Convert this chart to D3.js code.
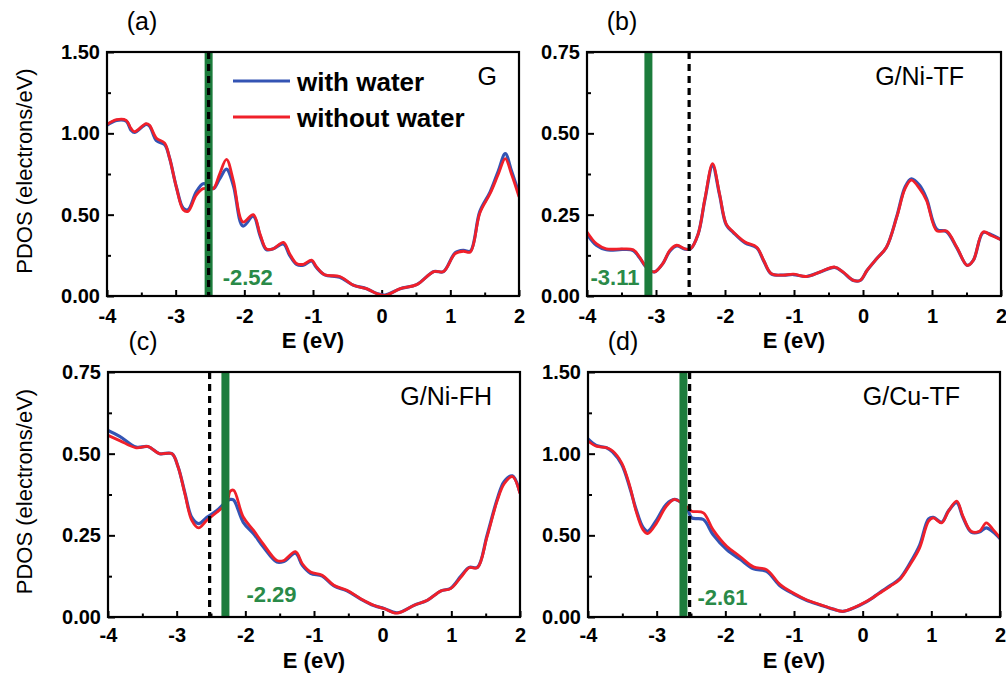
<!DOCTYPE html>
<html><head><meta charset="utf-8">
<script src="https://cdn.jsdelivr.net/npm/d3@7"></script>
<style>
body{margin:0;background:#fff;}
svg{display:block;font-family:"Liberation Sans",Arial,sans-serif;}
</style></head>
<body><svg id="c" width="1006" height="677"></svg>
<script>
// ---- data ----
const xTicksMajor = [-4,-3,-2,-1,0,1,2];
const xTicksMinor = [-3.5,-2.5,-1.5,-0.5,0.5,1.5];
const yTicksWide = [0,0.5,1.0,1.5];
const yTicksNarrow = [0,0.25,0.5,0.75];
const seriesNames = ["with water","without water"];
const panelTags = ["(a)","(b)","(c)","(d)"];
const systemNames = ["G","G/Ni-TF","G/Ni-FH","G/Cu-TF"];
const dashedRef = -2.52;
const dbandCenters = [-2.52,-3.11,-2.29,-2.61];

const aE = [-4,-3.86,-3.72,-3.65,-3.6,-3.43,-3.38,-3.28,-3.16,-3.09,-2.99,-2.89,-2.82,-2.7,-2.6,-2.52,-2.45,-2.36,-2.26,-2.16,-2.02,-1.87,-1.77,-1.68,-1.58,-1.43,-1.34,-1.24,-1.14,-1.02,-0.95,-0.83,-0.61,-0.41,-0.22,-0.07,0.05,0.27,0.51,0.76,0.9,1.07,1.19,1.29,1.43,1.58,1.7,1.8,1.89,2.0];
const aWithout = [1.055,1.084,1.08,1.03,1.01,1.06,1.05,0.97,0.94,0.85,0.67,0.53,0.52,0.62,0.66,0.66,0.66,0.75,0.84,0.71,0.455,0.50,0.38,0.29,0.29,0.33,0.26,0.20,0.195,0.22,0.18,0.13,0.12,0.066,0.045,0.015,0.004,0.045,0.07,0.15,0.15,0.26,0.275,0.27,0.51,0.63,0.75,0.845,0.75,0.61];
const aWith    = [1.05,1.08,1.075,1.02,1.005,1.055,1.045,0.955,0.93,0.85,0.67,0.54,0.53,0.64,0.69,0.68,0.66,0.72,0.78,0.68,0.43,0.49,0.37,0.285,0.29,0.32,0.25,0.195,0.19,0.215,0.175,0.13,0.115,0.066,0.045,0.015,0.006,0.045,0.07,0.15,0.15,0.265,0.28,0.275,0.52,0.64,0.77,0.875,0.77,0.63];

const bE = [-4,-3.86,-3.72,-3.48,-3.33,-3.24,-3.16,-3.09,-3.02,-2.9,-2.8,-2.7,-2.58,-2.5,-2.39,-2.29,-2.18,-2.08,-1.98,-1.88,-1.71,-1.54,-1.44,-1.33,-1.16,-1.01,-0.82,-0.62,-0.41,-0.29,-0.14,-0.04,0.06,0.2,0.34,0.49,0.61,0.7,0.82,0.92,1.07,1.21,1.36,1.51,1.6,1.74,1.86,2.0];
const bWithout = [0.197,0.16,0.145,0.145,0.142,0.12,0.094,0.079,0.074,0.10,0.14,0.156,0.145,0.145,0.19,0.30,0.407,0.315,0.22,0.197,0.166,0.15,0.11,0.069,0.064,0.067,0.06,0.074,0.089,0.074,0.048,0.048,0.079,0.115,0.15,0.243,0.33,0.356,0.33,0.294,0.20,0.20,0.15,0.094,0.11,0.197,0.186,0.173];
const bWith    = [0.19,0.155,0.142,0.143,0.14,0.118,0.093,0.079,0.074,0.10,0.138,0.154,0.144,0.145,0.19,0.298,0.40,0.312,0.218,0.195,0.163,0.148,0.108,0.068,0.064,0.066,0.06,0.074,0.088,0.073,0.048,0.048,0.079,0.115,0.15,0.245,0.335,0.36,0.34,0.30,0.205,0.198,0.148,0.094,0.11,0.195,0.188,0.173];

const cE = [-4,-3.83,-3.59,-3.42,-3.25,-3.07,-2.98,-2.88,-2.78,-2.68,-2.56,-2.42,-2.27,-2.22,-2.17,-2.03,-1.88,-1.74,-1.54,-1.44,-1.27,-1.17,-1.05,-0.88,-0.71,-0.52,-0.32,-0.13,0.02,0.21,0.46,0.65,0.85,0.99,1.14,1.26,1.38,1.52,1.67,1.77,1.89,2.0];
const cWithout = [0.556,0.54,0.518,0.522,0.50,0.50,0.46,0.377,0.296,0.273,0.296,0.32,0.35,0.385,0.388,0.306,0.265,0.224,0.173,0.173,0.20,0.163,0.138,0.128,0.097,0.082,0.056,0.036,0.026,0.012,0.036,0.051,0.08,0.087,0.122,0.151,0.151,0.245,0.357,0.408,0.43,0.378];
const cWith    = [0.571,0.553,0.52,0.522,0.50,0.50,0.46,0.38,0.305,0.286,0.305,0.325,0.355,0.36,0.358,0.29,0.255,0.215,0.168,0.17,0.195,0.158,0.134,0.125,0.095,0.08,0.055,0.035,0.026,0.013,0.036,0.051,0.08,0.088,0.125,0.152,0.152,0.25,0.362,0.415,0.432,0.38];

const dE = [-4,-3.88,-3.73,-3.64,-3.51,-3.39,-3.3,-3.2,-3.13,-3.0,-2.86,-2.74,-2.64,-2.55,-2.49,-2.32,-2.18,-1.98,-1.79,-1.59,-1.4,-1.2,-1.01,-0.82,-0.62,-0.43,-0.29,-0.14,0.06,0.25,0.4,0.54,0.69,0.83,0.96,1.03,1.15,1.25,1.37,1.46,1.58,1.7,1.8,1.9,2.0];
const dWithout = [1.077,1.046,1.036,1.016,0.944,0.80,0.648,0.535,0.511,0.576,0.678,0.72,0.70,0.67,0.648,0.638,0.535,0.433,0.372,0.307,0.29,0.198,0.147,0.106,0.076,0.049,0.035,0.055,0.096,0.147,0.188,0.229,0.32,0.423,0.587,0.607,0.576,0.648,0.709,0.617,0.525,0.525,0.576,0.535,0.484];
const dWith    = [1.09,1.05,1.036,1.01,0.935,0.79,0.66,0.55,0.525,0.595,0.69,0.72,0.70,0.66,0.607,0.597,0.505,0.413,0.355,0.295,0.28,0.19,0.142,0.103,0.074,0.048,0.035,0.054,0.094,0.15,0.192,0.235,0.33,0.44,0.6,0.61,0.58,0.65,0.70,0.61,0.52,0.52,0.546,0.52,0.48];

// ---- layout ----
const panels = [
  {E:aE, w:aWith, wo:aWithout, ymax:1.5, yt:yTicksWide, box:[107,52,519,296], legend:true, ylab:true,
   sysDx:-22, annDx:14, annAnchor:"start", annDy:-11, xlDy:52, tp:13},
  {E:bE, w:bWith, wo:bWithout, ymax:0.75, yt:yTicksNarrow, box:[587,52,1001,296], legend:false, ylab:false,
   sysDx:-37, annDx:-9, annAnchor:"end", annDy:-11, xlDy:52, tp:13},
  {E:cE, w:cWith, wo:cWithout, ymax:0.75, yt:yTicksNarrow, box:[108,372,520,617], legend:false, ylab:true,
   sysDx:-28, annDx:21, annAnchor:"start", annDy:-15, xlDy:51, tp:11},
  {E:dE, w:dWith, wo:dWithout, ymax:1.5, yt:yTicksWide, box:[588,372,1000,617], legend:false, ylab:false,
   sysDx:-40, annDx:14, annAnchor:"start", annDy:-12, xlDy:51, tp:11}
];
const BLUE = "#3454b4", RED = "#f0202a", GREEN = "#1c7c3c", GTEXT = "#2a8a48";

const svg = d3.select("#c");
panels.forEach((p,i)=>{
  const [x0,y0,x1,y1] = p.box;
  const x = d3.scaleLinear().domain([-4,2]).range([x0,x1]);
  const y = d3.scaleLinear().domain([0,p.ymax]).range([y1,y0]);
  const g = svg.append("g");
  const clipId = "clip"+i;
  g.append("clipPath").attr("id",clipId).append("rect")
    .attr("x",x0).attr("y",y0).attr("width",x1-x0).attr("height",y1-y0);

  // minor ticks
  const yMinor = p.yt.slice(0,-1).map((v,k)=>(v+p.yt[k+1])/2);
  g.append("g").attr("transform",`translate(0,${y1})`)
    .call(d3.axisBottom(x).tickValues(xTicksMinor).tickSize(-3.5).tickFormat(""))
    .call(s=>s.select(".domain").remove())
    .call(s=>s.selectAll("line").attr("stroke","#000").attr("stroke-width",2));
  g.append("g").attr("transform",`translate(${x0},0)`)
    .call(d3.axisLeft(y).tickValues(yMinor).tickSize(-4).tickFormat(""))
    .call(s=>s.select(".domain").remove())
    .call(s=>s.selectAll("line").attr("stroke","#000").attr("stroke-width",2));
  // major ticks
  g.append("g").attr("transform",`translate(0,${y1})`)
    .call(d3.axisBottom(x).tickValues(xTicksMajor).tickSize(-6).tickPadding(p.tp).tickFormat(d3.format("d")))
    .call(s=>s.select(".domain").remove())
    .call(s=>s.selectAll("line").attr("stroke","#000").attr("stroke-width",2))
    .call(s=>s.selectAll("text").attr("font-size",20).attr("font-weight","bold").attr("fill","#000")
      .attr("font-family","Liberation Sans, Arial, sans-serif").text(d=>d<0?"-"+Math.abs(d):d));
  g.append("g").attr("transform",`translate(${x0},0)`)
    .call(d3.axisLeft(y).tickValues(p.yt).tickSize(-7).tickPadding(7).tickFormat(d3.format(".2f")))
    .call(s=>s.select(".domain").remove())
    .call(s=>s.selectAll("line").attr("stroke","#000").attr("stroke-width",2))
    .call(s=>s.selectAll("text").attr("font-size",20).attr("font-weight","bold").attr("fill","#000")
      .attr("font-family","Liberation Sans, Arial, sans-serif"));

  // curves
  const line = d3.line().x((d,k)=>x(p.E[k])).y(d=>y(d)).curve(d3.curveCatmullRom.alpha(0.5));
  const cg = g.append("g").attr("clip-path",`url(#${clipId})`);
  cg.append("path").attr("d",line(p.w)).attr("fill","none").attr("stroke",BLUE).attr("stroke-width",3.2);
  cg.append("path").attr("d",line(p.wo)).attr("fill","none").attr("stroke",RED).attr("stroke-width",2.8);

  // green d-band line and dashed reference
  const cx = dbandCenters[i];
  g.append("line").attr("x1",x(cx)).attr("x2",x(cx)).attr("y1",y0).attr("y2",y1)
    .attr("stroke",GREEN).attr("stroke-width",8);
  g.append("line").attr("x1",x(dashedRef)).attr("x2",x(dashedRef)).attr("y1",y0).attr("y2",y1)
    .attr("stroke","#000").attr("stroke-width",3.2).attr("stroke-dasharray","7,5");

  // frame
  g.append("rect").attr("x",x0).attr("y",y0).attr("width",x1-x0).attr("height",y1-y0)
    .attr("fill","none").attr("stroke","#000").attr("stroke-width",2.2);

  // annotation
  g.append("text").attr("x",x(cx)+p.annDx).attr("y",y1+p.annDy).attr("text-anchor",p.annAnchor)
    .attr("font-size",22).attr("font-weight","bold").attr("fill",GTEXT)
    .text(cx.toFixed(2));

  // system name
  g.append("text").attr("x",x1+p.sysDx).attr("y",y0+33).attr("text-anchor","end")
    .attr("font-size",25).attr("fill","#000").text(systemNames[i]);

  // panel tag
  g.append("text").attr("x",x0+35).attr("y",y0-22).attr("text-anchor","middle")
    .attr("font-size",25).attr("fill","#000").text(panelTags[i]);

  // x label
  g.append("text").attr("x",(x0+x1)/2).attr("y",y1+p.xlDy).attr("text-anchor","middle")
    .attr("font-size",22).attr("font-weight","bold").attr("fill","#000").text("E (eV)");

  if(p.ylab){
    g.append("text").attr("transform",`translate(32,${(y0+y1)/2 - 3}) rotate(-90)`)
      .attr("text-anchor","middle").attr("font-size",22).attr("fill","#000")
      .text("PDOS (electrons/eV)");
  }
  if(p.legend){
    const ly = [81,117];
    [BLUE,RED].forEach((c,k)=>{
      g.append("line").attr("x1",233).attr("x2",290).attr("y1",ly[k]).attr("y2",ly[k])
        .attr("stroke",c).attr("stroke-width",3);
      g.append("text").attr("x",297).attr("y",ly[k]+10).attr("font-size",26).attr("font-weight","bold")
        .attr("fill","#000").text(seriesNames[k]);
    });
  }
});
</script></body></html>
